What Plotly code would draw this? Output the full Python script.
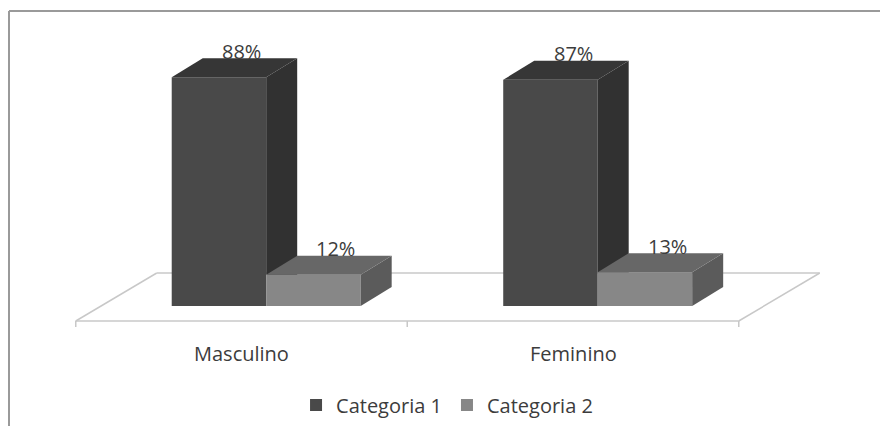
import plotly.graph_objects as go

# ---- data -------------------------------------------------------------
categories = ["Masculino", "Feminino"]
series_names = ["Categoria 1", "Categoria 2"]
categoria_1 = [88, 87]
categoria_2 = [12, 13]
value_labels_1 = ["88%", "87%"]
value_labels_2 = ["12%", "13%"]

series_values = [categoria_1, categoria_2]
series_labels = [value_labels_1, value_labels_2]

# ---- style / geometry -------------------------------------------------
W, H = 880, 426
FONT = "Open Sans"
TEXT_COLOR = "#3c3c3c"
FRONT = ["#494949", "#878787"]
TOP = ["#363636", "#676767"]
SIDE = ["#313131", "#5b5b5b"]

PX_PER_CAT = 331.5          # horizontal pixels per category slot
CAT0_PX = 241.5             # pixel centre of the first category
PX_PER_UNIT = 2.6           # vertical pixels per percentage point
BASE_PX = 306               # pixel row of the value 0

BAR_W = 0.285
OFFSETS = [-0.068, 0.217]
DEPTH_X = 31 / PX_PER_CAT   # oblique depth of a bar
DEPTH_Y = 19 / PX_PER_UNIT

FLOOR_FRONT = -15 / PX_PER_UNIT
FLOOR_BACK = 33 / PX_PER_UNIT
FLOOR_SHIFT = 81 / PX_PER_CAT
FLOOR_COLOR = "#c8c8c8"

x_range = [-CAT0_PX / PX_PER_CAT, (W - CAT0_PX) / PX_PER_CAT]
y_range = [(BASE_PX - H) / PX_PER_UNIT, BASE_PX / PX_PER_UNIT]

fig = go.Figure()

# front faces of the boxes
for s, (name, vals) in enumerate(zip(series_names, series_values)):
    fig.add_trace(go.Bar(
        x=[i + OFFSETS[s] for i in range(len(categories))],
        y=vals,
        width=BAR_W,
        name=name,
        marker=dict(color=FRONT[s], line=dict(width=0)),
        hoverinfo="skip",
    ))

# top and side faces (oblique projection)
for i in range(len(categories)):
    for s, vals in enumerate(series_values):
        v = vals[i]
        x0 = i + OFFSETS[s] - BAR_W / 2
        x1 = i + OFFSETS[s] + BAR_W / 2
        # the right neighbour's front face hides the lower part of this side
        clip = series_values[s + 1][i] if s + 1 < len(series_values) else 0
        low = max(clip, 0)
        side_x = [x1, x1, x1 + DEPTH_X, x1 + DEPTH_X, x1]
        side_y = [low, v, v + DEPTH_Y, max(low, DEPTH_Y), low]
        fig.add_trace(go.Scatter(
            x=side_x, y=side_y, fill="toself", mode="lines",
            fillcolor=SIDE[s], line=dict(width=0, color=SIDE[s]),
            showlegend=False, hoverinfo="skip",
        ))
        top_x = [x0, x1, x1 + DEPTH_X, x0 + DEPTH_X, x0]
        top_y = [v, v, v + DEPTH_Y, v + DEPTH_Y, v]
        fig.add_trace(go.Scatter(
            x=top_x, y=top_y, fill="toself", mode="lines",
            fillcolor=TOP[s], line=dict(width=0, color=TOP[s]),
            showlegend=False, hoverinfo="skip",
        ))

# value labels above each box
annotations = []
for s, (vals, labels) in enumerate(zip(series_values, series_labels)):
    for i, (v, lab) in enumerate(zip(vals, labels)):
        annotations.append(dict(
            x=i + OFFSETS[s] + 0.068, y=v + DEPTH_Y, text=lab,
            showarrow=False, yanchor="middle", yshift=7,
            font=dict(family=FONT, size=20, color=TEXT_COLOR),
        ))

# category labels under the floor
for i, cat in enumerate(categories):
    annotations.append(dict(
        x=i, y=(BASE_PX - 353) / PX_PER_UNIT, text=cat,
        showarrow=False, yanchor="middle",
        font=dict(family=FONT, size=20, color=TEXT_COLOR),
    ))

# floor outline and tick marks
n = len(categories)
fx0, fx1 = -0.5, n - 0.5
floor_edges = [
    (fx0, FLOOR_FRONT, fx1, FLOOR_FRONT),
    (fx0 + FLOOR_SHIFT, FLOOR_BACK, fx1 + FLOOR_SHIFT, FLOOR_BACK),
    (fx0, FLOOR_FRONT, fx0 + FLOOR_SHIFT, FLOOR_BACK),
    (fx1, FLOOR_FRONT, fx1 + FLOOR_SHIFT, FLOOR_BACK),
]
shapes = []
for (a, b, c, d) in floor_edges:
    shapes.append(dict(type="line", xref="x", yref="y", x0=a, y0=b, x1=c, y1=d,
                       line=dict(color=FLOOR_COLOR, width=1.5), layer="below"))
for k in range(n + 1):
    tx = k - 0.5
    shapes.append(dict(type="line", xref="x", yref="y", x0=tx, y0=FLOOR_FRONT,
                       x1=tx, y1=FLOOR_FRONT - 6 / PX_PER_UNIT,
                       line=dict(color=FLOOR_COLOR, width=1.5), layer="below"))

# chart frame
frame_x = 9 / W
frame_y = 1 - 11 / H
shapes.append(dict(type="line", xref="paper", yref="paper", x0=frame_x, y0=0,
                   x1=frame_x, y1=frame_y, line=dict(color="#9a9a9a", width=2)))
shapes.append(dict(type="line", xref="paper", yref="paper", x0=frame_x, y0=frame_y,
                   x1=1, y1=frame_y, line=dict(color="#9a9a9a", width=2)))

fig.update_layout(
    width=W, height=H, autosize=False,
    margin=dict(l=0, r=0, t=0, b=0),
    paper_bgcolor="white", plot_bgcolor="white",
    barmode="overlay",
    xaxis=dict(range=x_range, visible=False, fixedrange=True),
    yaxis=dict(range=y_range, visible=False, fixedrange=True),
    showlegend=True,
    legend=dict(
        orientation="h", x=0.508, xanchor="center", y=1 - 405 / H, yanchor="middle",
        font=dict(family=FONT, size=20, color=TEXT_COLOR),
        bgcolor="rgba(0,0,0,0)", itemclick=False, itemdoubleclick=False,
    ),
    annotations=annotations,
    shapes=shapes,
)

fig.write_html("out.html")
